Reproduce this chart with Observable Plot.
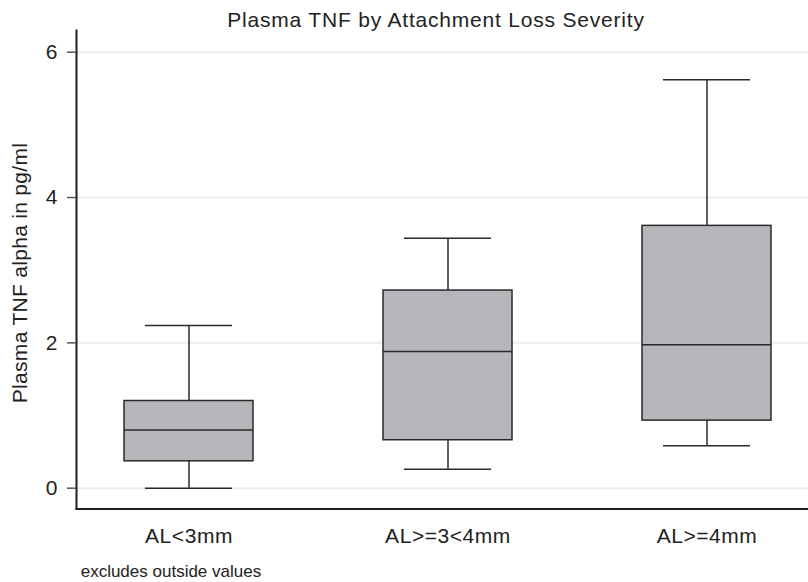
<!DOCTYPE html>
<html>
<head>
<meta charset="utf-8">
<script src="https://cdn.jsdelivr.net/npm/d3@7"></script>
<script src="https://cdn.jsdelivr.net/npm/@observablehq/plot@0.6"></script>
<style>
  html, body { margin: 0; padding: 0; background: #fff; }
  #wrap { position: relative; width: 808px; height: 582px; background: #fff; overflow: hidden;
          font-family: "Liberation Sans", Arial, Helvetica, sans-serif; color: #222; }
  #chart { position: absolute; left: 0; top: 0; }
  .title { position: absolute; left: 436px; top: 10.3px; transform: translateX(-50%);
           font-size: 21px; line-height: 20px; letter-spacing: 0.8px; white-space: nowrap; }
  .ylabel { position: absolute; left: 20px; top: 273px; width: 400px; text-align: center;
            font-size: 21px; line-height: 20px; letter-spacing: 0.3px; white-space: nowrap;
            transform: translate(-50%, -50%) rotate(-90deg); }
  .caption { position: absolute; left: 80.7px; top: 562.9px; font-size: 17px; line-height: 17px; white-space: nowrap; }
  g[aria-label="x-axis tick label"] text { letter-spacing: 0.55px; }
</style>
</head>
<body>
<div id="wrap">
  <div id="chart"></div>
  <div class="title">Plasma TNF by Attachment Loss Severity</div>
  <div class="ylabel">Plasma TNF alpha in pg/ml</div>
  <div class="caption">excludes outside values</div>
</div>
<script>
const categories   = ["AL<3mm", "AL>=3<4mm", "AL>=4mm"];
const lowerWhisker = [0.00, 0.26, 0.585];
const q1           = [0.37, 0.66, 0.93];
const median       = [0.80, 1.88, 1.975];
const q3           = [1.20, 2.72, 3.61];
const upperWhisker = [2.24, 3.44, 5.62];
const yTicks       = [0, 2, 4, 6];

const boxes = categories.map((c, i) => ({
  cat: c, lo: lowerWhisker[i], q1: q1[i], med: median[i], q3: q3[i], hi: upperWhisker[i]
}));

const ink = "#2a2a2a";
const chart = Plot.plot({
  width: 808,
  height: 582,
  marginLeft: 76,
  marginRight: 0,
  marginTop: 30,
  marginBottom: 73.5,
  style: { fontFamily: '"Liberation Sans", Arial, Helvetica, sans-serif', fontSize: "21px", color: "#222", background: "#fff" },
  x: { type: "band", domain: categories, range: [58.5, 835.5], paddingInner: 0.502, paddingOuter: 0.251, align: 0.5, label: null },
  y: { domain: [0, 6], range: [487.7, 51.7], label: null },
  marks: [
    Plot.gridY(yTicks, { stroke: "#ececec", strokeOpacity: 1, strokeWidth: 2 }),
    Plot.ruleX(boxes, { x: "cat", y1: "q3", y2: "hi", stroke: ink, strokeWidth: 1.5 }),
    Plot.ruleX(boxes, { x: "cat", y1: "lo", y2: "q1", stroke: ink, strokeWidth: 1.5 }),
    Plot.tickY(boxes, { x: "cat", y: "hi", stroke: ink, strokeWidth: 1.5, insetLeft: 21, insetRight: 21 }),
    Plot.tickY(boxes, { x: "cat", y: "lo", stroke: ink, strokeWidth: 1.5, insetLeft: 21, insetRight: 21 }),
    Plot.barY(boxes, { x: "cat", y1: "q1", y2: "q3", fill: "#b5b6b9", stroke: ink, strokeWidth: 1.5 }),
    Plot.tickY(boxes, { x: "cat", y: "med", stroke: ink, strokeWidth: 1.5 }),
    Plot.frame({ anchor: "left", stroke: "#1e1e1e", strokeWidth: 2 }),
    Plot.frame({ anchor: "bottom", stroke: "#1e1e1e", strokeWidth: 2 }),
    Plot.axisY(yTicks, { tickSize: 9, tickPadding: 10, fontSize: 21, tickFormat: d3.format("d"), fill: "#222", stroke: "#555", strokeWidth: 1.5, label: null }),
    Plot.axisX({ tickSize: 0, tickPadding: 19, fontSize: 21, fill: "#222", label: null })
  ]
});
document.getElementById("chart").appendChild(chart);
</script>
</body>
</html>
